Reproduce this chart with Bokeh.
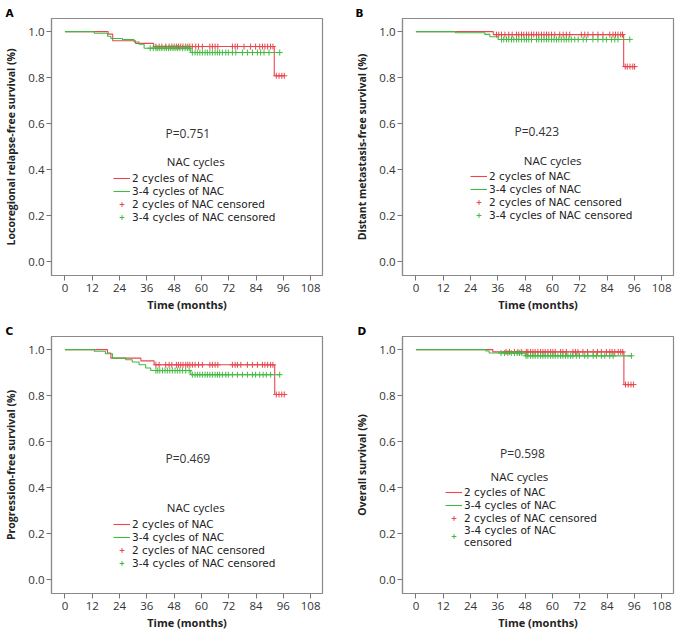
import numpy as np
from bokeh.plotting import figure
from bokeh.layouts import row, column
from bokeh.models import (Range1d, FixedTicker, PrintfTickFormatter, Label,
                          Legend, LegendItem)
from bokeh.embed import file_html
from bokeh.resources import INLINE

# ---------------- data ----------------
x_ticks = [0, 12, 24, 36, 48, 60, 72, 84, 96, 108]
y_ticks = [0.0, 0.2, 0.4, 0.6, 0.8, 1.0]
group_labels = ["2 cycles of NAC", "3-4 cycles of NAC"]
censor_labels = ["2 cycles of NAC censored", "3-4 cycles of NAC censored"]
legend_title = "NAC cycles"
x_label = "Time (months)"

# Panel A: locoregional relapse-free survival
a_red_t = [0, 19.0, 21.0, 31.0, 39.0, 92.0]
a_red_s = [1.0, 0.989, 0.960, 0.949, 0.935, 0.808]
a_red_c = [40.0, 41.4, 42.6, 44.3, 45.8, 47.0, 48.0, 49.0, 49.9, 50.9, 51.9,
           53.1, 54.0, 54.9, 56.0, 57.5, 58.7, 60.4, 63.7, 64.8, 66.0, 67.2,
           73.6, 74.8, 75.8, 78.7, 81.6, 83.8, 85.6, 86.8, 87.9, 89.1, 90.4,
           91.4, 92.9, 94.1, 95.3, 96.4]
a_grn_t = [0, 12.9, 18.7, 20.2, 25.3, 30.4, 32.6, 34.8, 55.3]
a_grn_s = [1.0, 0.993, 0.980, 0.970, 0.965, 0.955, 0.945, 0.928, 0.909]
a_grn_c = [37.5, 38.8, 40.0, 40.8, 41.7, 42.6, 43.6, 44.6, 45.5, 46.5, 47.5,
           48.4, 49.4, 50.5, 51.7, 52.8, 53.8, 54.6, 56.0, 57.2, 58.2, 59.3,
           60.4, 61.6, 62.6, 63.7, 64.8, 66.0, 67.0, 68.0, 69.2, 70.7, 71.8,
           73.6, 75.1, 78.0, 80.2, 82.4, 84.6, 86.0, 87.5, 89.7, 94.4]
a_p = "P=0.751"

# Panel B: distant metastasis-free survival
b_red_t = [0, 34.0, 91.3]
b_red_s = [1.0, 0.987, 0.848]
b_red_c = [35.4, 36.4, 37.6, 39.1, 40.8, 42.3, 44.2, 45.2, 46.4, 47.4, 48.6,
           49.6, 50.8, 51.8, 53.0, 54.0, 55.2, 56.3, 57.4, 58.4, 59.6, 61.0,
           63.2, 64.7, 66.1, 67.6, 72.7, 74.2, 75.6, 77.8, 80.0, 82.2, 85.2,
           86.6, 87.7, 88.8, 90.0, 90.8, 92.0, 92.9, 94.1, 95.3, 96.1]
b_grn_t = [0, 17.4, 30.3, 32.5, 36.1]
b_grn_s = [1.0, 0.995, 0.988, 0.978, 0.966]
b_grn_c = [37.6, 38.6, 39.8, 40.8, 42.0, 43.0, 44.2, 45.2, 46.4, 47.6, 48.6,
           49.6, 50.8, 53.0, 54.0, 55.2, 56.3, 57.4, 58.4, 59.6, 60.7, 61.8,
           62.8, 63.9, 65.1, 66.1, 67.2, 68.3, 69.8, 71.3, 73.5, 74.9, 77.8,
           80.0, 82.2, 83.7, 85.9, 87.4, 88.8, 94.0]
b_p = "P=0.423"

# Panel C: progression-free survival
c_red_t = [0, 18.7, 20.2, 33.4, 39.2, 92.2]
c_red_s = [1.0, 0.985, 0.963, 0.951, 0.934, 0.805]
c_red_c = [40.0, 41.4, 44.3, 45.8, 47.0, 49.0, 49.9, 50.9, 51.9, 53.1, 54.0,
           54.9, 56.0, 57.2, 58.7, 60.4, 63.7, 64.8, 66.0, 67.2, 73.6, 74.8,
           75.8, 77.3, 80.2, 82.4, 84.6, 86.8, 87.9, 89.1, 90.4, 91.4, 92.9,
           94.1, 95.3, 96.4]
c_grn_t = [0, 12.9, 17.8, 20.9, 26.7, 29.6, 32.6, 35.5, 37.7, 55.3]
c_grn_s = [1.0, 0.993, 0.982, 0.963, 0.956, 0.946, 0.934, 0.920, 0.909, 0.891]
c_grn_c = [40.0, 40.8, 41.7, 42.9, 44.0, 45.0, 46.1, 47.2, 48.4, 49.4, 50.5,
           51.7, 53.1, 54.6, 56.0, 57.2, 58.2, 59.3, 60.4, 61.6, 62.6, 63.7,
           64.8, 66.0, 67.0, 68.0, 69.2, 70.7, 71.8, 73.6, 75.8, 78.0, 80.2,
           82.4, 83.8, 85.6, 87.1, 88.5, 90.4, 94.4]
c_p = "P=0.469"

# Panel D: overall survival
d_red_t = [0, 33.8, 91.4]
d_red_s = [1.0, 0.990, 0.848]
d_red_c = [39.6, 41.1, 43.3, 44.8, 46.3, 48.5, 49.2, 50.4, 51.4, 52.4, 53.6,
           54.8, 55.8, 56.8, 58.0, 59.2, 60.2, 61.2, 63.6, 64.6, 66.1, 69.0,
           70.1, 71.2, 73.4, 75.4, 77.9, 79.8, 81.5, 83.7, 85.2, 86.2, 87.4,
           88.9, 90.0, 90.9, 92.1, 93.3, 94.5, 95.6]
d_grn_t = [0, 30.7, 32.2, 48.0]
d_grn_s = [1.0, 0.994, 0.985, 0.973]
d_grn_c = [37.4, 38.9, 40.4, 41.9, 43.3, 44.5, 45.5, 46.6, 48.4, 49.2, 50.4,
           51.4, 52.4, 53.6, 54.8, 55.8, 56.8, 58.0, 59.2, 60.2, 61.2, 62.4,
           63.6, 64.6, 65.7, 66.8, 68.0, 69.0, 70.5, 71.9, 74.2, 75.6, 77.9,
           79.3, 81.5, 83.0, 85.2, 86.7, 94.7]
d_p = "P=0.598"

# ---------------- styling ----------------
FONT = "Open Sans"
LEG_FONT = "DejaVu Sans"
RED = "#e8474f"
GREEN = "#43b943"
FRAME = "#8a8a8a"


def step_xy(t, s, c):
    return list(t) + [max(c)], list(s) + [s[-1]]


def censor_y(t, s, c):
    idx = np.searchsorted(np.array(t), np.array(c), side="right") - 1
    return [s[i] for i in idx]


def make_panel(letter, ylabel, red, grn, ptext, p_xy, title_xy, leg_loc,
               borders, letter_offset, wrap_last=False):
    bl, br, bt, bb = borders
    p = figure(frame_width=271, frame_height=257,
               x_range=Range1d(-5.9, 113.2), y_range=Range1d(-0.06, 1.057),
               output_backend="svg", toolbar_location=None,
               min_border_left=bl, min_border_right=br,
               min_border_top=bt, min_border_bottom=bb)
    p.background_fill_color = "white"
    p.border_fill_color = "white"
    p.grid.visible = False
    p.outline_line_color = FRAME
    p.outline_line_width = 1.2

    p.title.text = letter
    p.title.align = "left"
    p.title.offset = letter_offset
    p.title.standoff = 0
    p.title.text_font = LEG_FONT
    p.title.text_font_style = "bold"
    p.title.text_font_size = "10.5px"
    p.title.text_line_height = 0.8
    p.title.text_color = "black"

    for ax in (p.xaxis[0], p.yaxis[0]):
        ax.axis_line_color = FRAME
        ax.axis_line_width = 1.2
        ax.major_tick_line_color = "#777777"
        ax.minor_tick_line_color = None
        ax.major_tick_in = 0
        ax.major_tick_out = 5
        ax.major_label_text_font = FONT
        ax.major_label_text_font_size = "11.5px"
        ax.major_label_text_color = "#333333"
        ax.axis_label_text_font = FONT
        ax.axis_label_text_font_style = "bold"
        ax.axis_label_text_color = "#222222"
        ax.axis_label_text_font_size = "10.5px"

    p.xaxis.ticker = FixedTicker(ticks=x_ticks)
    p.yaxis.ticker = FixedTicker(ticks=y_ticks)
    p.yaxis.formatter = PrintfTickFormatter(format="%.1f")
    p.xaxis.axis_label = x_label
    p.xaxis.axis_label_text_font_size = "11px"
    p.yaxis.axis_label = ylabel
    p.xaxis.major_label_standoff = 3
    p.xaxis.axis_label_standoff = 2
    p.yaxis.major_label_standoff = 2
    p.yaxis.axis_label_standoff = 7

    renders = []
    for (t, s, c), col in ((red, RED), (grn, GREEN)):
        xs, ys = step_xy(t, s, c)
        r = p.step(xs, ys, mode="after", line_color=col, line_width=1.1)
        renders.append(r)
    for (t, s, c), col in ((red, RED), (grn, GREEN)):
        m = p.scatter(c, censor_y(t, s, c), marker="cross", size=6,
                      line_color=col, line_width=1)
        renders.append(m)

    labels = group_labels + censor_labels
    if wrap_last:
        labels = labels[:3] + ["3-4 cycles of NAC\ncensored"]
    items = [LegendItem(label=lab, renderers=[r]) for lab, r in zip(labels, renders)]
    leg = Legend(items=items, location=leg_loc, orientation="vertical",
                 background_fill_alpha=0, border_line_alpha=0,
                 padding=0, margin=0, spacing=0, label_standoff=2,
                 glyph_width=17, glyph_height=12, label_height=13,
                 label_text_font=LEG_FONT, label_text_font_size="10.5px",
                 label_text_color="#222222")
    p.add_layout(leg)

    p.add_layout(Label(x=p_xy[0], y=p_xy[1], text=ptext, text_font=FONT,
                       text_font_size="12px", text_color="#333333",
                       text_align="center", text_baseline="middle"))
    p.add_layout(Label(x=title_xy[0], y=title_xy[1], text=legend_title,
                       text_font=FONT, text_font_size="11.5px",
                       text_color="#222222", text_align="center",
                       text_baseline="middle"))
    return p


pA = make_panel("A", "Locoregional relapse-free survival (%)",
                (a_red_t, a_red_s, a_red_c), (a_grn_t, a_grn_s, a_grn_c),
                a_p, (54, 0.558), (57.5, 0.437), (62, 52),
                (51, 29, 16, 44), -46)
pB = make_panel("B", "Distant metastasis-free survival (%)",
                (b_red_t, b_red_s, b_red_c), (b_grn_t, b_grn_s, b_grn_c),
                b_p, (53.1, 0.564), (60.1, 0.44), (68, 54),
                (51, 3, 18, 43), -47)
pC = make_panel("C", "Progression-free survival (%)",
                (c_red_t, c_red_s, c_red_c), (c_grn_t, c_grn_s, c_grn_c),
                c_p, (54, 0.528), (57.5, 0.313), (62, 24),
                (51, 29, 17, 38), -46)
pD = make_panel("D", "Overall survival (%)",
                (d_red_t, d_red_s, d_red_c), (d_grn_t, d_grn_s, d_grn_c),
                d_p, (46.8, 0.55), (45.5, 0.45), (43, 45),
                (51, 3, 18, 37), -45, wrap_last=True)

layout = column(row(pA, pB), row(pC, pD))
open("out.html", "w").write(file_html(layout, INLINE))
